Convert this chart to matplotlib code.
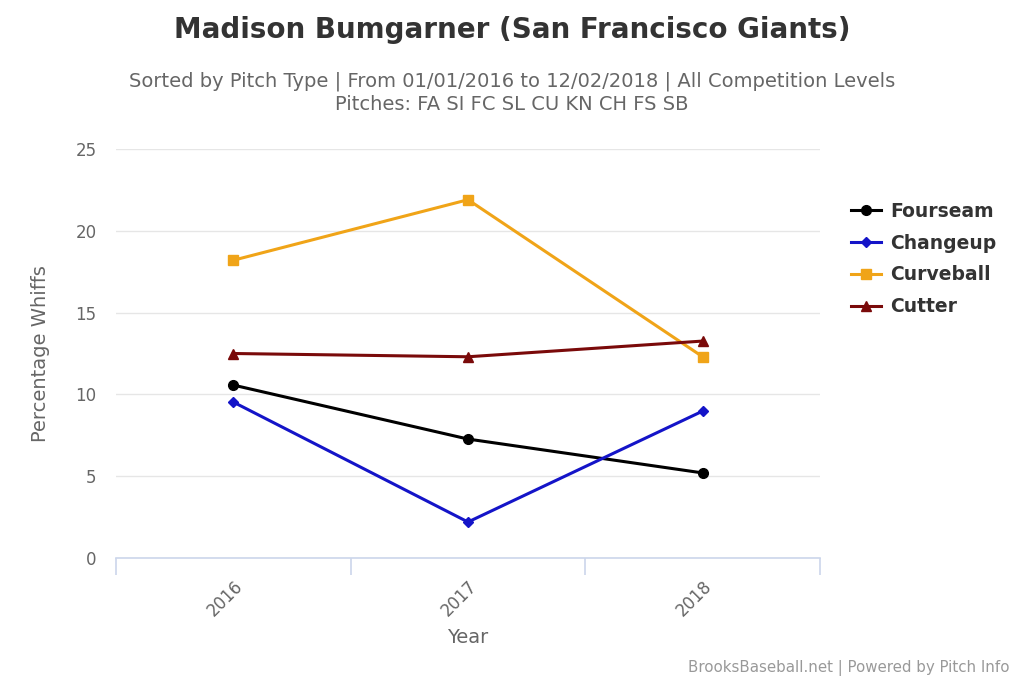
import numpy as np
import matplotlib.pyplot as plt

years = ['2016', '2017', '2018']
fourseam = [10.57, 7.27, 5.2]
changeup = [9.53, 2.2, 8.98]
curveball = [18.2, 21.9, 12.3]
cutter = [12.5, 12.3, 13.26]

series = [
    ('Fourseam', fourseam, 'black', 'o', 7),
    ('Changeup', changeup, '#1414c8', 'D', 5),
    ('Curveball', curveball, '#f0a418', 's', 7),
    ('Cutter', cutter, '#7a0a0a', '^', 7),
]

fig = plt.figure(figsize=(10.24, 6.83), dpi=100)
ax = fig.add_axes([116/1024, 1-558/683, (820-116)/1024, (558-149)/683])

x = np.arange(len(years))
for name, vals, col, mk, ms in series:
    ax.plot(x, vals, color=col, marker=mk, markersize=ms, linewidth=2.2, label=name)

ax.set_xlim(-0.5, 2.5)
ax.set_ylim(0, 25)
ax.set_yticks([0, 5, 10, 15, 20, 25])
ax.grid(axis='y', color='#e6e6e6', linewidth=1)
ax.set_axisbelow(True)
for s in ['top', 'right', 'left']:
    ax.spines[s].set_visible(False)
ax.spines['bottom'].set_color('#ccd6eb')
ax.spines['bottom'].set_linewidth(1.2)

ax.set_xticks(x)
ax.set_xticklabels(years, rotation=45, ha='right', rotation_mode='anchor', fontsize=12, color='#666666')
ax.tick_params(axis='x', length=0, pad=14)
ax.set_xticks([-0.5, 0.5, 1.5, 2.5], minor=True)
ax.tick_params(axis='x', which='minor', length=12, color='#ccd6eb', width=1.2)
ax.tick_params(axis='y', length=0, labelsize=12, labelcolor='#666666', pad=14)

ax.set_xlabel('Year', fontsize=14, color='#666666', labelpad=6)
ax.set_ylabel('Percentage Whiffs', fontsize=14, color='#666666', labelpad=18)

fig.text(0.5, 1-30/683, 'Madison Bumgarner (San Francisco Giants)', ha='center', va='center',
         fontsize=20, fontweight='bold', color='#333333')
fig.text(0.5, 1-81/683, 'Sorted by Pitch Type | From 01/01/2016 to 12/02/2018 | All Competition Levels',
         ha='center', va='center', fontsize=14, color='#666666')
fig.text(0.5, 1-105/683, 'Pitches: FA SI FC SL CU KN CH FS SB',
         ha='center', va='center', fontsize=14, color='#666666')
fig.text(1-14/1024, 1-668/683, 'BrooksBaseball.net | Powered by Pitch Info', ha='right', va='center',
         fontsize=10.8, color='#999999')

leg = fig.legend(loc='upper left', bbox_to_anchor=(834/1024, 1-185/683), frameon=False,
                 prop={'weight': 'bold', 'size': 13.5}, labelcolor='#333333',
                 handlelength=1.6, handletextpad=0.5, labelspacing=0.68)

fig.savefig('out.png', dpi=100)
